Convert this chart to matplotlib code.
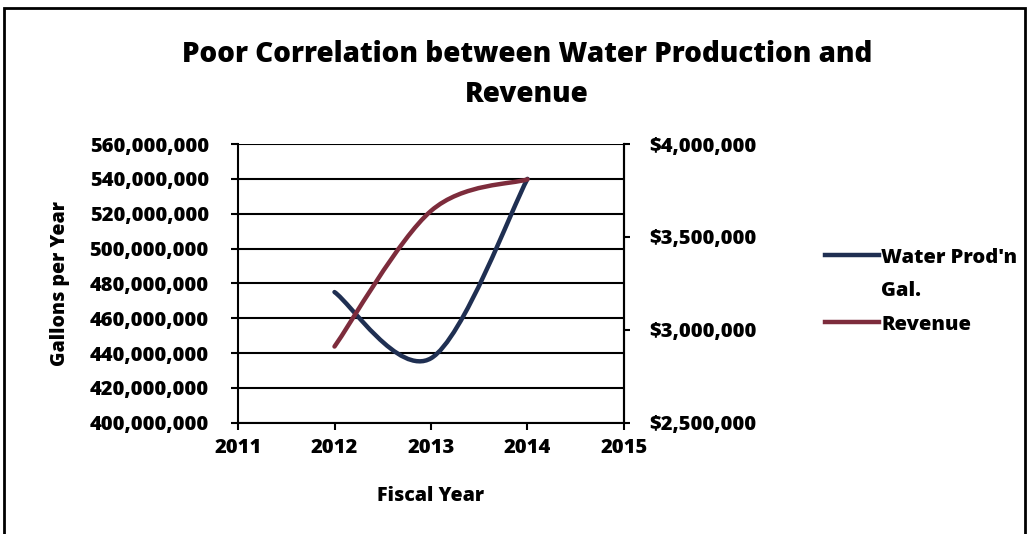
import matplotlib
matplotlib.use("Agg")
import matplotlib.pyplot as plt
from matplotlib.path import Path
from matplotlib.patches import PathPatch, Rectangle
from matplotlib.ticker import FuncFormatter, MultipleLocator
from matplotlib.lines import Line2D

plt.rcParams["font.family"] = ["Open Sans", "DejaVu Sans"]
plt.rcParams["font.weight"] = "heavy"

years = [2012, 2013, 2014]
water_gal = [475_000_000, 437_000_000, 540_000_000]
revenue = [2_910_000, 3_640_000, 3_810_000]
# the first legend label wraps onto a second line
legend_labels = ["Water Prod'n", "Gal.", "Revenue"]
title = "Poor Correlation between Water Production and\nRevenue"

WATER_C = "#1f2f52"
REV_C = "#7d2c3c"


def smooth_path(xs, ys):
    # Catmull-Rom style cubic Bezier through the points (Excel "smoothed line")
    pts = list(zip(xs, ys))
    verts = [pts[0]]
    codes = [Path.MOVETO]
    n = len(pts)
    for i in range(n - 1):
        p0 = pts[i - 1] if i > 0 else pts[i]
        p1 = pts[i]
        p2 = pts[i + 1]
        p3 = pts[i + 2] if i + 2 < n else pts[i + 1]
        c1 = (p1[0] + (p2[0] - p0[0]) / 6, p1[1] + (p2[1] - p0[1]) / 6)
        c2 = (p2[0] - (p3[0] - p1[0]) / 6, p2[1] - (p3[1] - p1[1]) / 6)
        verts += [c1, c2, p2]
        codes += [Path.CURVE4] * 3
    return Path(verts, codes)


fig = plt.figure(figsize=(10.29, 5.34), dpi=100)
ax = fig.add_axes([0.2313, 0.2084, 0.6064 - 0.2313, 0.7303 - 0.2084])
ax2 = ax.twinx()

ax.set_xlim(2011, 2015)
ax.set_ylim(400_000_000, 560_000_000)
ax2.set_ylim(2_500_000, 4_000_000)

ax.yaxis.set_major_locator(MultipleLocator(20_000_000))
ax.xaxis.set_major_locator(MultipleLocator(1))
ax2.yaxis.set_major_locator(MultipleLocator(500_000))
ax.yaxis.set_major_formatter(FuncFormatter(lambda v, p: f"{v:,.0f}"))
ax2.yaxis.set_major_formatter(FuncFormatter(lambda v, p: f"${v:,.0f}"))
ax.xaxis.set_major_formatter(FuncFormatter(lambda v, p: f"{v:.0f}"))

ax.grid(axis="y", color="black", linewidth=1.5)
ax.set_axisbelow(True)

for a in (ax, ax2):
    a.spines["top"].set_visible(False)
    for s in ("left", "right", "bottom"):
        a.spines[s].set_linewidth(1.5)
ax2.spines["left"].set_visible(False)
ax2.spines["bottom"].set_visible(False)

ax.tick_params(axis="y", labelsize=14.5, length=5, width=1.5, pad=16)
ax.tick_params(axis="x", labelsize=14.5, length=5, width=1.5, pad=6)
ax2.tick_params(axis="y", labelsize=14.5, length=4, width=1.5, pad=14)

ax.add_patch(PathPatch(smooth_path(years, water_gal), fill=False,
                       edgecolor=WATER_C, linewidth=3.2, capstyle="round",
                       zorder=3))
ax2.add_patch(PathPatch(smooth_path(years, revenue), fill=False,
                        edgecolor=REV_C, linewidth=3.2, capstyle="round",
                        zorder=3))

ax.set_ylabel("Gallons per Year", fontsize=14, fontweight="heavy", labelpad=14)
ax.set_xlabel("Fiscal Year", fontsize=14, fontweight="heavy", labelpad=20)

fig.text(0.512, 0.86, title, ha="center", va="center", fontsize=20,
         fontweight="heavy", linespacing=1.5)

handles = [Line2D([], [], color=WATER_C, linewidth=3.2),
           Line2D([], [], color="none"),
           Line2D([], [], color=REV_C, linewidth=3.2)]
fig.legend(handles, legend_labels, loc="center left",
           bbox_to_anchor=(0.784, 0.455), frameon=False,
           handlelength=2.7, handletextpad=0.1, labelspacing=0.67,
           prop={"weight": "heavy", "size": 14.5})

# chart frame
fig.patches.append(Rectangle((0.004, -0.1), 0.992, 1.085,
                             transform=fig.transFigure, fill=False,
                             edgecolor="black", linewidth=2))

fig.savefig("out.png", dpi=100)
